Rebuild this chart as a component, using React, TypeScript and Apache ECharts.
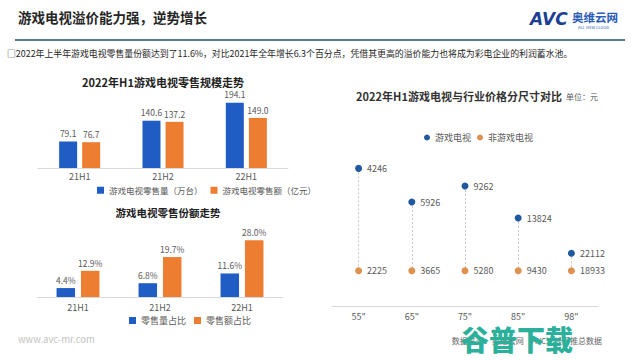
import React, { useEffect, useRef } from "react";
import * as echarts from "echarts";

const periods = ["21H1", "21H2", "22H1"];
const salesVolume = [79.1, 140.6, 194.1]; // 万台
const salesValue = [76.7, 137.2, 149.0]; // 亿元
const volumeShare = [4.4, 6.8, 11.6]; // %
const valueShare = [12.9, 19.7, 28.0]; // %

const sizes = ['55"', '65"', '75"', '85"', '98"'];
const gamingPrice = [4246, 5926, 9262, 13824, 22112];
const nonGamingPrice = [2225, 3665, 5280, 9430, 18933];
// relative plotting level of each dot (0-100), as placed in the original chart
const gamingLevel = [86, 65, 75, 55, 33];
const nonGamingLevel = [22, 22, 22, 22, 22];

const BLUE = "#1F5CC4";
const ORANGE = "#ED7D31";
const DOT_BLUE = "#21599F";
const DOT_ORANGE = "#E0904E";
const TXT = "#595959";
const FONT = "'Noto Sans CJK SC', 'Noto Sans', sans-serif";

export default function App() {
  const ref = useRef<HTMLDivElement>(null);
  useEffect(() => {
    if (!ref.current) return;
    const chart = echarts.init(ref.current, null, { renderer: "svg" });

    const barLabel = (suffix: string) => ({
      show: true,
      position: "top",
      distance: 4,
      fontSize: 8.5,
      color: TXT,
      fontFamily: FONT,
      formatter: (p: any) => p.value.toFixed(1) + suffix,
    });

    const catAxis = (gridIndex: number, data: string[], margin: number) => ({
      type: "category",
      gridIndex,
      data,
      axisLine: { lineStyle: { color: "#d9d9d9", width: 1 } },
      axisTick: { show: false },
      axisLabel: { fontSize: 9, color: TXT, margin, fontFamily: FONT },
    });

    const hiddenY = (gridIndex: number, max: number) => ({
      type: "value",
      gridIndex,
      min: 0,
      max,
      show: false,
      splitLine: { show: false },
    });

    const option: any = {
      animation: false,
      textStyle: { fontFamily: FONT },
      grid: [
        { left: 38, width: 250, top: 94, height: 74 },
        { left: 37, width: 246, top: 226, height: 71 },
        { left: 332, width: 266, top: 146, height: 160 },
      ],
      xAxis: [
        catAxis(0, periods, 4),
        catAxis(1, periods, 6),
        catAxis(2, sizes, 6),
      ],
      yAxis: [hiddenY(0, 220), hiddenY(1, 35), hiddenY(2, 100)],
      title: [
        {
          text: "2022年H1游戏电视零售规模走势",
          left: 158,
          top: 71,
          textAlign: "center",
          textStyle: { fontSize: 11, fontWeight: "bold", color: "#222", fontFamily: FONT },
        },
        {
          text: "游戏电视零售份额走势",
          left: 163,
          top: 202,
          textAlign: "center",
          textStyle: { fontSize: 10.5, fontWeight: "bold", color: "#222", fontFamily: FONT },
        },
        {
          text: "2022年H1游戏电视与行业价格分尺寸对比",
          left: 454,
          top: 85,
          textAlign: "center",
          textStyle: { fontSize: 11, fontWeight: "bold", color: "#333", fontFamily: FONT },
        },
      ],
      legend: [
        {
          data: ["游戏电视零售量（万台）", "游戏电视零售额（亿元）"],
          left: 92,
          top: 181,
          itemWidth: 7,
          itemHeight: 7,
          itemGap: 8,
          icon: "rect",
          textStyle: { fontSize: 8.5, color: TXT, fontFamily: FONT },
        },
        {
          data: ["零售量占比", "零售额占比"],
          left: 124,
          top: 311,
          itemWidth: 7,
          itemHeight: 7,
          itemGap: 8,
          icon: "rect",
          textStyle: { fontSize: 9, color: TXT, fontFamily: FONT },
        },
        {
          data: ["游戏电视", "非游戏电视"],
          left: 419,
          top: 128,
          itemWidth: 6,
          itemHeight: 6,
          itemGap: 6,
          icon: "circle",
          textStyle: { fontSize: 9, color: TXT, fontFamily: FONT },
        },
      ],
      series: [
        {
          name: "游戏电视零售量（万台）",
          type: "bar",
          xAxisIndex: 0,
          yAxisIndex: 0,
          data: salesVolume,
          barWidth: 18,
          barGap: "28%",
          itemStyle: { color: BLUE },
          label: barLabel(""),
        },
        {
          name: "游戏电视零售额（亿元）",
          type: "bar",
          xAxisIndex: 0,
          yAxisIndex: 0,
          data: salesValue,
          barWidth: 18,
          barGap: "28%",
          itemStyle: { color: ORANGE },
          label: barLabel(""),
        },
        {
          name: "零售量占比",
          type: "bar",
          xAxisIndex: 1,
          yAxisIndex: 1,
          data: volumeShare,
          barWidth: 18.5,
          barGap: "32%",
          itemStyle: { color: BLUE },
          label: barLabel("%"),
        },
        {
          name: "零售额占比",
          type: "bar",
          xAxisIndex: 1,
          yAxisIndex: 1,
          data: valueShare,
          barWidth: 18.5,
          barGap: "32%",
          itemStyle: { color: ORANGE },
          label: barLabel("%"),
        },
        {
          name: "非游戏电视",
          type: "scatter",
          xAxisIndex: 2,
          yAxisIndex: 2,
          data: nonGamingLevel.map((lv, i) => ({ value: [i, lv], price: nonGamingPrice[i] })),
          symbolSize: 7,
          itemStyle: { color: DOT_ORANGE, opacity: 1 },
          label: {
            show: true,
            position: "right",
            distance: 5,
            fontSize: 9,
            color: TXT,
            formatter: (p: any) => String(p.data.price),
          },
          z: 3,
        },
        {
          name: "游戏电视",
          type: "scatter",
          xAxisIndex: 2,
          yAxisIndex: 2,
          data: gamingLevel.map((lv, i) => ({ value: [i, lv], price: gamingPrice[i] })),
          symbolSize: 7,
          itemStyle: { color: DOT_BLUE, opacity: 1 },
          label: {
            show: true,
            position: "right",
            distance: 5,
            fontSize: 9,
            color: TXT,
            formatter: (p: any) => String(p.data.price),
          },
          markLine: {
            silent: true,
            symbol: "none",
            label: { show: false },
            lineStyle: { type: [2, 2], color: "#c8c8c8", width: 1 },
            data: gamingLevel.map((lv, i) => [
              { coord: [i, lv] },
              { coord: [i, nonGamingLevel[i]] },
            ]),
            z: 1,
          },
          z: 3,
        },
      ],
      graphic: [
        {
          type: "text",
          left: 18,
          top: 10,
          style: {
            text: "游戏电视溢价能力强，逆势增长",
            fontSize: 13.5,
            fontWeight: "bold",
            fill: "#262626",
            fontFamily: FONT,
          },
        },
        {
          type: "text",
          left: 530,
          top: 10,
          style: {
            text: "AVC",
            fontSize: 17,
            fontWeight: "bold",
            fontStyle: "italic",
            fill: "#1C3F94",
            fontFamily: "'DejaVu Sans', sans-serif",
          },
        },
        {
          type: "text",
          left: 572,
          top: 11,
          style: {
            text: "奥维云网",
            fontSize: 11.5,
            fontWeight: "bold",
            fill: "#2A5CB8",
            fontFamily: FONT,
          },
        },
        {
          type: "text",
          left: 578,
          top: 25,
          style: {
            text: "ALL VIEW CLOUD",
            fontSize: 4,
            fill: "#2A5CB8",
            fontFamily: FONT,
          },
        },
        {
          type: "line",
          shape: { x1: 15, y1: 40, x2: 625, y2: 40 },
          style: { stroke: "#1F4E79", lineWidth: 1.5 },
        },
        {
          type: "text",
          left: 7,
          top: 49,
          style: {
            text: "□2022年上半年游戏电视零售量份额达到了11.6%，对比2021年全年增长6.3个百分点，凭借其更高的溢价能力也将成为彩电企业的利润蓄水池。",
            fontSize: 8.9,
            fill: "#262626",
            fontFamily: FONT,
          },
        },
        {
          type: "text",
          left: 566,
          top: 92,
          style: { text: "单位：元", fontSize: 8, fill: TXT, fontFamily: FONT },
        },
        {
          type: "text",
          left: 18,
          top: 334,
          style: { text: "www.avc-mr.com", fontSize: 9.5, fill: "#c4c4c4", fontFamily: FONT },
        },
        {
          type: "text",
          right: 38,
          top: 336,
          style: {
            text: "数据来源：奥维云网（AVC）线下推总数据",
            fontSize: 8,
            fill: "#666",
            fontFamily: FONT,
          },
        },
        {
          type: "text",
          left: 461,
          top: 325,
          z: 100,
          style: {
            text: "谷普下载",
            fontSize: 28,
            fontWeight: 900,
            fill: "#2BB09B",
            fontFamily: FONT,
          },
        },
      ],
    };

    chart.setOption(option);
    return () => chart.dispose();
  }, []);

  return (
    <div
      ref={ref}
      style={{ position: "fixed", left: 0, top: 0, width: 640, height: 360, background: "#fff" }}
    />
  );
}
